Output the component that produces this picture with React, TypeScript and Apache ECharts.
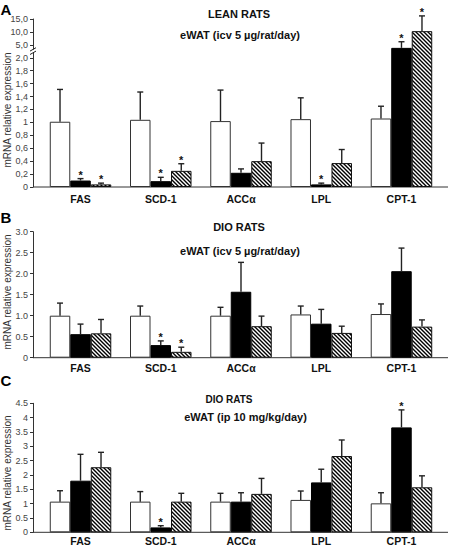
import React, { useEffect, useRef } from "react";
import * as echarts from "echarts";

const categories = ["FAS", "SCD-1", "ACCα", "LPL", "CPT-1"];
const seriesNames = ["Vehicle", "Treated", "Pair-fed"];

// Panel A – lean rats, eWAT (icv 5 µg/rat/day)
const leanVehicle = [1.01, 1.04, 1.02, 1.05, 1.06];
const leanVehicleSem = [0.5, 0.43, 0.48, 0.33, 0.19];
const leanTreated = [0.1, 0.09, 0.22, 0.04, 4.3];
const leanTreatedSem = [0.03, 0.06, 0.06, 0.02, 1.9];
const leanPairFed = [0.04, 0.25, 0.4, 0.37, 10.3];
const leanPairFedSem = [0.02, 0.11, 0.28, 0.21, 5.9];
const leanVehicleSig = [0, 0, 0, 0, 0];
const leanTreatedSig = [1, 1, 0, 1, 1];
const leanPairFedSig = [1, 1, 0, 0, 1];

// Panel B – DIO rats, eWAT (icv 5 µg/rat/day)
const dioIcvVehicle = [1.0, 1.0, 1.0, 1.03, 1.04];
const dioIcvVehicleSem = [0.3, 0.23, 0.2, 0.2, 0.24];
const dioIcvTreated = [0.56, 0.3, 1.57, 0.81, 2.06];
const dioIcvTreatedSem = [0.24, 0.1, 0.7, 0.34, 0.55];
const dioIcvPairFed = [0.58, 0.14, 0.75, 0.59, 0.74];
const dioIcvPairFedSem = [0.33, 0.11, 0.24, 0.16, 0.16];
const dioIcvVehicleSig = [0, 0, 0, 0, 0];
const dioIcvTreatedSig = [0, 1, 0, 0, 0];
const dioIcvPairFedSig = [0, 1, 0, 0, 0];

// Panel C – DIO rats, eWAT (ip 10 mg/kg/day)
const dioIpVehicle = [1.07, 1.07, 1.07, 1.13, 1.01];
const dioIpVehicleSem = [0.38, 0.35, 0.29, 0.31, 0.37];
const dioIpTreated = [1.8, 0.17, 1.07, 1.74, 3.66];
const dioIpTreatedSem = [0.92, 0.06, 0.31, 0.46, 0.61];
const dioIpPairFed = [2.27, 1.07, 1.34, 2.66, 1.57];
const dioIpPairFedSem = [0.52, 0.29, 0.54, 0.56, 0.4];
const dioIpVehicleSig = [0, 0, 0, 0, 0];
const dioIpTreatedSig = [0, 1, 0, 0, 1];
const dioIpPairFedSig = [0, 0, 0, 0, 0];

const tickLabelsA = ["0", "0,2", "0,4", "0,6", "0,8", "1", "1,2", "1,4", "1,6", "1,8", "2,0", "5,0", "10,0", "15,0"];
const tickLabelsB = ["0", "0.5", "1.0", "1.5", "2.0", "2.5", "3.0"];
const tickLabelsC = ["0", "0.5", "1", "1.5", "2", "2.5", "3", "3.5", "4", "4.5"];

// broken axis of panel A: real value -> shown position
const breakReal = [0, 2, 5, 15];
const breakShown = [0, 2, 2.2, 2.6];

const titlesA = ["LEAN RATS", "eWAT (icv 5 µg/rat/day)"];
const titlesB = ["DIO RATS", "eWAT (icv 5 µg/rat/day)"];
const titlesC = ["DIO RATS", "eWAT (ip 10 mg/kg/day)"];
const yName = "mRNA relative expression";

const FONT = "'Liberation Sans', Arial, Helvetica, sans-serif";
const W = 456;
const H = 548;
const GRID_LEFT = 40.4;
const GRID_RIGHT = 14.4;
const AXIS_X = 33;
const AXIS_END = 448;
const BAR_W = 20.5;

function toShownA(v: number): number {
  for (let i = 1; i < breakReal.length; i++) {
    if (v <= breakReal[i] || i === breakReal.length - 1) {
      const r0 = breakReal[i - 1], r1 = breakReal[i];
      const s0 = breakShown[i - 1], s1 = breakShown[i];
      return s0 + ((v - r0) / (r1 - r0)) * (s1 - s0);
    }
  }
  return v;
}
const ident = (v: number) => v;

const hatchSvg =
  "<svg xmlns='http://www.w3.org/2000/svg' width='4' height='4'>" +
  "<rect width='4' height='4' fill='white'/>" +
  "<path d='M-1,-1 L5,5 M-1,3 L1,5 M3,-1 L5,1' stroke='black' stroke-width='1.4'/></svg>";
const hatch = {
  image: "data:image/svg+xml;utf8," + encodeURIComponent(hatchSvg),
  repeat: "repeat",
  imageWidth: 4,
  imageHeight: 4,
};

const panels = [
  {
    letter: "A",
    titles: titlesA,
    top: 19,
    bottom: 187,
    max: 2.6,
    interval: 0.2,
    labels: tickLabelsA,
    toShown: toShownA,
    labelMargin: 6,
    values: [leanVehicle, leanTreated, leanPairFed],
    sems: [leanVehicleSem, leanTreatedSem, leanPairFedSem],
    sigs: [leanVehicleSig, leanTreatedSig, leanPairFedSig],
    letterY: 9,
    titleY: [14, 35],
    titleSize: [11, 11],
    titleX: [239, 240],
    nameY: 110,
  },
  {
    letter: "B",
    titles: titlesB,
    top: 231.7,
    bottom: 357.7,
    max: 3,
    interval: 0.5,
    labels: tickLabelsB,
    toShown: ident,
    labelMargin: 5,
    values: [dioIcvVehicle, dioIcvTreated, dioIcvPairFed],
    sems: [dioIcvVehicleSem, dioIcvTreatedSem, dioIcvPairFedSem],
    sigs: [dioIcvVehicleSig, dioIcvTreatedSig, dioIcvPairFedSig],
    letterY: 217,
    titleY: [227, 251],
    titleSize: [11, 11],
    titleX: [239, 240],
    nameY: 292,
  },
  {
    letter: "C",
    titles: titlesC,
    top: 403.3,
    bottom: 532.3,
    max: 4.5,
    interval: 0.5,
    labels: tickLabelsC,
    toShown: ident,
    labelMargin: 3,
    values: [dioIpVehicle, dioIpTreated, dioIpPairFed],
    sems: [dioIpVehicleSem, dioIpTreatedSem, dioIpPairFedSem],
    sigs: [dioIpVehicleSig, dioIpTreatedSig, dioIpPairFedSig],
    letterY: 380,
    titleY: [399, 416.5],
    titleSize: [10, 11],
    titleX: [229, 245.5],
    nameY: 473,
  },
];

const barStyles = [
  { color: "#ffffff", borderColor: "#333333", borderWidth: 1 },
  { color: "#000000", borderColor: "#000000", borderWidth: 1 },
  { color: hatch, borderColor: "#111111", borderWidth: 1 },
];

function textEl(text: string, x: number, y: number, size: number, weight: string, fill: string, rotation = 0) {
  return {
    type: "text",
    x,
    y,
    rotation,
    silent: true,
    style: {
      text,
      fill,
      font: `${weight} ${size}px ${FONT}`,
      align: "center",
      verticalAlign: "middle",
      textAlign: "center",
      textVerticalAlign: "middle",
    },
  };
}

function buildOption() {
  const grid: any[] = [];
  const xAxis: any[] = [];
  const yAxis: any[] = [];
  const series: any[] = [];
  const graphic: any[] = [];

  panels.forEach((p, pi) => {
    grid.push({ left: GRID_LEFT, right: GRID_RIGHT, top: p.top, height: p.bottom - p.top });
    xAxis.push({
      gridIndex: pi,
      type: "category",
      data: categories,
      axisLine: { show: false },
      axisTick: { show: false },
      axisLabel: { fontWeight: "bold", fontSize: 10.5, color: "#111", margin: p.labelMargin, fontFamily: FONT },
    });
    yAxis.push({
      gridIndex: pi,
      type: "value",
      min: 0,
      max: p.max,
      interval: p.interval,
      offset: GRID_LEFT - AXIS_X,
      splitLine: { show: false },
      axisLine: { show: true, lineStyle: { color: "#333", width: 1 } },
      axisTick: { show: true, length: 3, lineStyle: { color: "#333" } },
      axisLabel: {
        fontSize: 9,
        color: "#444",
        margin: 5,
        fontFamily: FONT,
        formatter: (v: number) => p.labels[Math.round(v / p.interval)] ?? "",
      },
    });

    const errData: any[] = [];
    p.values.forEach((vals, g) => {
      series.push({
        type: "bar",
        name: seriesNames[g],
        xAxisIndex: pi,
        yAxisIndex: pi,
        barWidth: BAR_W,
        barGap: "0%",
        itemStyle: barStyles[g],
        data: vals.map((v) => p.toShown(v)),
      });
      vals.forEach((v, c) => {
        errData.push([c, g, p.toShown(v), p.toShown(v + p.sems[g][c]), p.sigs[g][c]]);
      });
    });
    series.push({
      type: "custom",
      xAxisIndex: pi,
      yAxisIndex: pi,
      z: 5,
      clip: false,
      silent: true,
      data: errData,
      renderItem: (params: any, api: any) => {
        const c = api.value(0);
        const g = api.value(1);
        const base = api.coord([c, api.value(2)]);
        const top = api.coord([c, api.value(3)]);
        const x = base[0] + (g - 1) * BAR_W;
        const children: any[] = [
          { type: "line", shape: { x1: x, y1: base[1], x2: x, y2: top[1] }, style: { stroke: "#222", lineWidth: 1.4 } },
          { type: "line", shape: { x1: x - 3, y1: top[1], x2: x + 3, y2: top[1] }, style: { stroke: "#222", lineWidth: 1.4 } },
        ];
        if (api.value(4)) {
          children.push({
            type: "text",
            x,
            y: top[1] - 4,
            style: {
              text: "*",
              fill: "#111",
              font: `bold 11px ${FONT}`,
              align: "center",
              verticalAlign: "middle",
              textAlign: "center",
              textVerticalAlign: "middle",
            },
          });
        }
        return { type: "group", children };
      },
    });

    // x axis baseline spanning the full frame
    graphic.push({
      type: "line",
      silent: true,
      shape: { x1: AXIS_X, y1: p.bottom, x2: AXIS_END, y2: p.bottom },
      style: { stroke: "#333", lineWidth: 1 },
    });
    graphic.push(textEl(p.letter, 6, p.letterY, 15, "bold", "#000"));
    graphic.push(textEl(p.titles[0], p.titleX[0], p.titleY[0], p.titleSize[0], "bold", "#111"));
    graphic.push(textEl(p.titles[1], p.titleX[1], p.titleY[1], p.titleSize[1], "bold", "#111"));
    graphic.push(textEl(yName, 7.5, p.nameY, 10, "normal", "#333", Math.PI / 2));
  });

  // axis break marks for panel A
  const pa = panels[0];
  const unit = (pa.bottom - pa.top) / pa.max;
  const by = pa.bottom - 2.1 * unit;
  graphic.push({
    type: "rect",
    silent: true,
    z: 100,
    shape: { x: AXIS_X - 1.5, y: by - 1.8, width: 3, height: 3.2 },
    style: { fill: "#fff" },
  });
  graphic.push({
    type: "line",
    silent: true,
    z: 101,
    shape: { x1: AXIS_X - 3, y1: by - 0.2, x2: AXIS_X + 3, y2: by - 3.6 },
    style: { stroke: "#222", lineWidth: 1 },
  });
  graphic.push({
    type: "line",
    silent: true,
    z: 101,
    shape: { x1: AXIS_X - 3, y1: by + 3.2, x2: AXIS_X + 3, y2: by - 0.2 },
    style: { stroke: "#222", lineWidth: 1 },
  });

  return {
    animation: false,
    backgroundColor: "#ffffff",
    textStyle: { fontFamily: FONT },
    grid,
    xAxis,
    yAxis,
    series,
    graphic: { elements: graphic },
  };
}

export default function App() {
  const ref = useRef<HTMLDivElement>(null);
  useEffect(() => {
    if (!ref.current) return;
    const chart = echarts.init(ref.current, undefined, { renderer: "svg", width: W, height: H });
    chart.setOption(buildOption() as any);
    return () => chart.dispose();
  }, []);
  return (
    <div
      ref={ref}
      style={{ position: "fixed", left: 0, top: 0, width: W, height: H, background: "#fff" }}
    />
  );
}
